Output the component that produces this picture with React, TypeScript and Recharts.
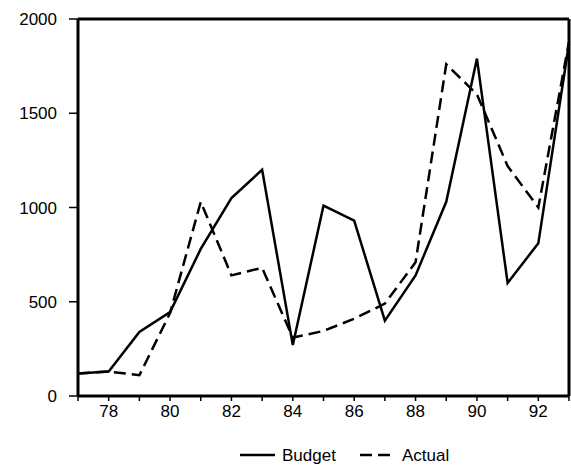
import React from "react";
import {
  LineChart,
  Line,
  XAxis,
  YAxis,
  Legend,
  ReferenceLine,
} from "recharts";

const years = [77, 78, 79, 80, 81, 82, 83, 84, 85, 86, 87, 88, 89, 90, 91, 92, 93];
const budget = [120, 130, 340, 445, 780, 1050, 1200, 270, 1010, 930, 400, 640, 1030, 1790, 600, 810, 1870];
const actual = [120, 130, 110, 440, 1030, 640, 680, 310, 345, 410, 490, 710, 1760, 1600, 1220, 1000, 1880];
const yTicks = [0, 500, 1000, 1500, 2000];

const data = years.map((year, i) => ({
  year,
  budget: budget[i],
  actual: actual[i],
}));

const FONT = "'Liberation Sans', Arial, sans-serif";

// only the even years carry a label, every year gets a tick mark
const YearTick = (props: any) => {
  const { x, y, payload } = props;
  if (payload.value % 2 !== 0) return null;
  return (
    <text
      x={x}
      y={y}
      dy={14}
      textAnchor="middle"
      fontSize={17}
      fontFamily={FONT}
      fill="#000"
    >
      {payload.value}
    </text>
  );
};

const ChartLegend = () => (
  <svg width={571} height={40} style={{ display: "block", overflow: "visible" }}>
    <line x1={222} y1={29} x2={257} y2={29} stroke="#000" strokeWidth={2.5} />
    <text x={264} y={35} fontSize={17} fontFamily={FONT} fill="#000">
      Budget
    </text>
    <line
      x1={342}
      y1={29}
      x2={376}
      y2={29}
      stroke="#000"
      strokeWidth={2.5}
      strokeDasharray="12 6"
    />
    <text x={384} y={35} fontSize={17} fontFamily={FONT} fill="#000">
      Actual
    </text>
  </svg>
);

const App = () => {
  return (
    <div style={{ position: "absolute", left: 0, top: 0 }}>
      <LineChart
        width={571}
        height={471}
        data={data}
        margin={{ top: 19, right: 2, left: 18, bottom: 5 }}
        style={{ background: "#fff" }}
      >
        <XAxis
          dataKey="year"
          type="number"
          domain={[77, 93]}
          ticks={years}
          interval={0}
          tick={<YearTick />}
          tickSize={5}
          height={30}
          axisLine={{ stroke: "#000", strokeWidth: 3 }}
          tickLine={{ stroke: "#000", strokeWidth: 1.5 }}
        />
        <YAxis
          domain={[0, 2000]}
          ticks={yTicks}
          interval={0}
          width={60}
          tickSize={9}
          tickMargin={12}
          tick={{ fill: "#000", fontSize: 17, fontFamily: FONT }}
          axisLine={{ stroke: "#000", strokeWidth: 3 }}
          tickLine={{ stroke: "#000", strokeWidth: 1.5 }}
        />
        <ReferenceLine y={2000} stroke="#000" strokeWidth={3} ifOverflow="visible" />
        <ReferenceLine x={93} stroke="#000" strokeWidth={3} ifOverflow="visible" />
        <Legend verticalAlign="bottom" content={<ChartLegend />} />
        <Line
          type="linear"
          dataKey="budget"
          name="Budget"
          stroke="#000"
          strokeWidth={2.5}
          dot={false}
          isAnimationActive={false}
        />
        <Line
          type="linear"
          dataKey="actual"
          name="Actual"
          stroke="#000"
          strokeWidth={2.5}
          strokeDasharray="12 6"
          dot={false}
          isAnimationActive={false}
        />
      </LineChart>
    </div>
  );
};

export default App;
